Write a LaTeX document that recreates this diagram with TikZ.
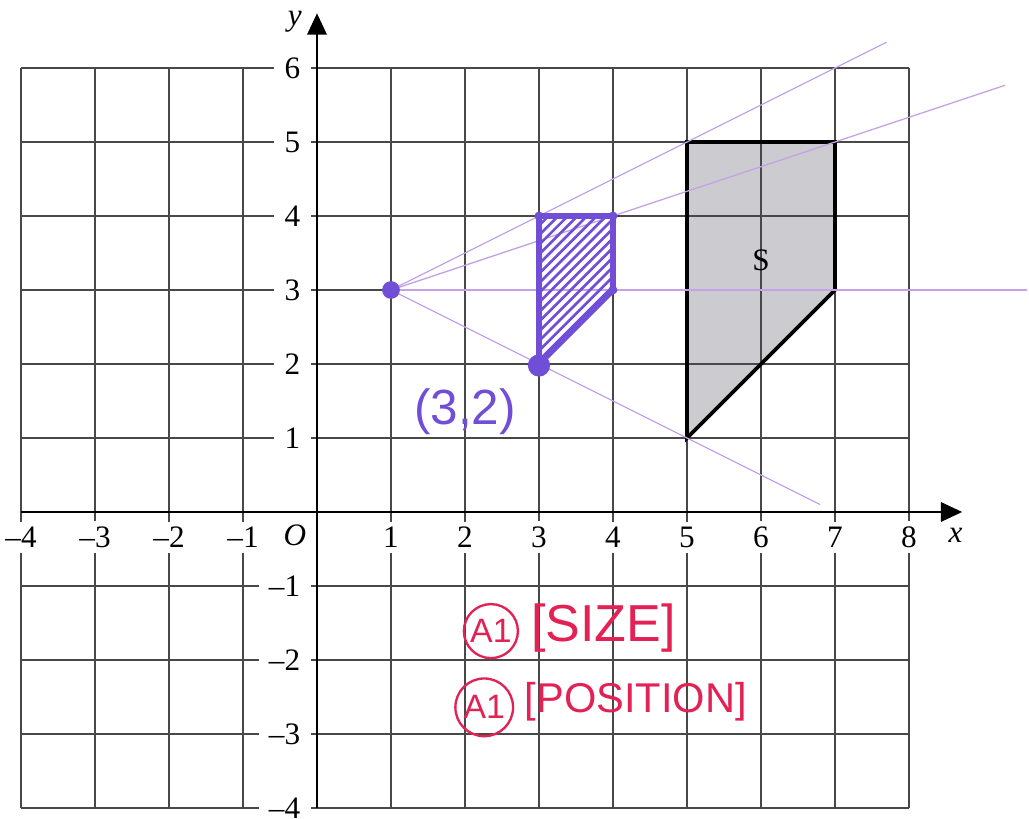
\documentclass[tikz,border=0pt]{standalone}
\usepackage{fontspec}
\setmainfont{Liberation Serif}
\newfontfamily\handfont{Liberation Sans}
\usetikzlibrary{arrows.meta,positioning,calc}
\definecolor{gridc}{RGB}{72,72,72}
\definecolor{shadec}{RGB}{203,203,208}
\definecolor{pen}{RGB}{112,78,214}
\definecolor{raycol}{RGB}{196,162,232}
\definecolor{redpen}{RGB}{226,34,84}
\tikzset{
  gridline/.style={draw=gridc, line width=0.6pt},
  axisline/.style={line width=1.1pt, -{Triangle[length=2.9mm,width=2.6mm]}},
  num/.style={fill=white, inner xsep=4pt, inner ysep=2pt, font=\large},
  rayline/.style={draw=raycol, line width=0.5pt},
  imgshape/.style={draw=pen, line width=2.2pt, line join=round},
  hatch/.style={draw=pen, line width=1pt},
  dot/.style={circle, fill=pen, inner sep=0pt, minimum size=#1},
  hand/.style={font=\handfont\fontsize{#1}{#1}\selectfont, text=redpen, inner sep=1pt},
  award/.style={circle, draw=redpen, line width=0.9pt, inner sep=0pt, minimum size=#1, text=redpen, font=\handfont\fontsize{13}{13}\selectfont},
}

\begin{document}
\begin{tikzpicture}
  \useasboundingbox (-4.284,-4.149) rectangle (9.622,6.919);
  \fill[shadec] (5,5) -- (7,5) -- (7,3) -- (5,1) -- cycle;
  \foreach \x in {-4,...,8} \draw[gridline] (\x,-4) -- (\x,6);
  \foreach \y in {-4,...,6} \draw[gridline] (-4,\y) -- (8,\y);
  \foreach \x in {1,...,8} \node[num] (xp\x) at (\x,-0.34) {\x};
  \foreach \x in {1,...,4} \node[num] (xm\x) at (-\x,-0.34) {--\x};
  \foreach \y in {1,...,6} \node[num, anchor=east] (yp\y) at (-0.08,\y) {\y};
  \foreach \y in {1,...,4} \node[num, anchor=east] (ym\y) at (-0.08,-\y) {--\y};
  \node[num, inner xsep=1pt] (O) at (-0.3,-0.32) {\textit{O}};
  \coordinate (xend) at (8.72,0);
  \coordinate (yend) at (0,6.74);
  \draw[axisline] (-4,0) -- (xend);
  \draw[axisline] (0,-4) -- (yend);
  \node[font=\large] (xlab) at (8.63,-0.31) {\textit{x}};
  \node[font=\large] (ylab) at (-0.3,6.62) {\textit{y}};
  \draw[line width=1.4pt, line join=miter] (5,5) -- (7,5) -- (7,3) -- (5,1) -- cycle;
  \node[font=\large] (S) at (6,3.4) {S};
  % centre and rays
  \coordinate (C) at (1,3);
  \coordinate (r1) at (7.7,6.35);
  \coordinate (r2) at (9.3,5.767);
  \coordinate (r3) at (9.6,3);
  \coordinate (r4) at (6.8,0.1);
  \foreach \r in {r1,r2,r3,r4} \draw[rayline] (C) -- (\r);
  \begin{scope}
    \clip (3,4) -- (4,4) -- (4,3) -- (3,2) -- cycle;
    \foreach \i in {0,...,24} \draw[hatch] (1+0.13*\i,2) -- ++(2.2,2.2);
  \end{scope}
  \draw[imgshape] (3,4) -- (4,4) -- (4,3) -- (3,2) -- cycle;
  \node[dot=2.4mm] (Cdot) at (C) {};
  \node[dot=3mm] (P) at (3,1.98) {};
  \node[dot=1.2mm] (Q1) at (3,4) {};
  \node[dot=1.2mm] (Q2) at (4,4) {};
  \node[dot=1.2mm] (Q3) at (4,3) {};
  \node[hand=19, text=pen] (Plab) at (2.0,1.35) {(3,2)};
  % marks
  \node[award=7.3mm] (a1) at (2.35,-1.61) {A1};
  \node[hand=20, right=0.12 of a1, yshift=1pt] (size) {[SIZE]};
  \node[award=7.8mm] (a2) at (2.26,-2.64) {A1};
  \node[hand=16, right=0.1 of a2, yshift=2pt] (pos) {[POSITION]};
\end{tikzpicture}
\end{document}
